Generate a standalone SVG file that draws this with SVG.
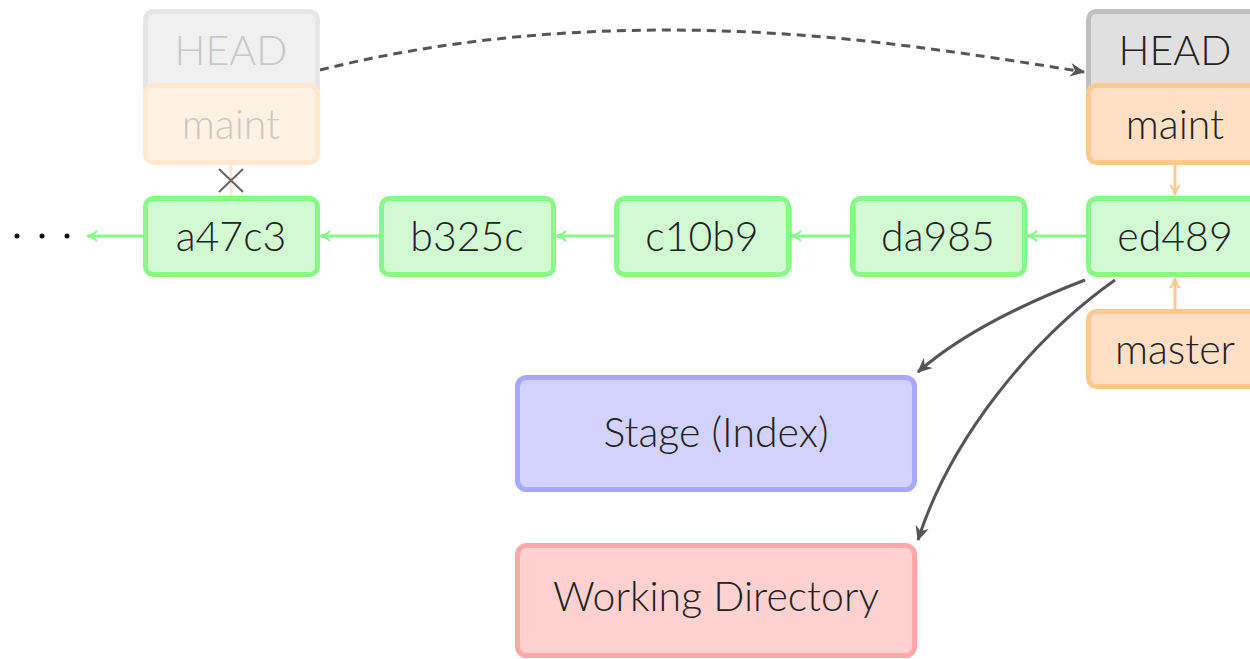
<svg xmlns="http://www.w3.org/2000/svg" width="1250" height="659" viewBox="0 0 1250 659">
<defs>
<style>
.t{font-family:"Lato","Open Sans","DejaVu Sans",sans-serif;font-size:41px;font-weight:300;text-anchor:middle;fill:#222}
.commit rect{fill:#d2fad2;stroke:#88f888;stroke-width:5}
.hist{stroke:#88f888;stroke-width:3;fill:none;marker-end:url(#ag)}
.ref{stroke:#ffc890;stroke-width:3;fill:none;marker-end:url(#ao)}
.dark{stroke:#555;stroke-width:3;fill:none;marker-end:url(#ad)}
</style>
<marker id="ag" viewBox="0 0 12 12" refX="10" refY="6" markerWidth="12" markerHeight="12" markerUnits="userSpaceOnUse" orient="auto"><path d="M1,1 Q5,5 11,6 Q5,7 1,11" fill="none" stroke="#88f888" stroke-width="2"/></marker>
<marker id="ao" viewBox="0 0 12 12" refX="10" refY="6" markerWidth="12" markerHeight="12" markerUnits="userSpaceOnUse" orient="auto"><path d="M1,1 Q5,5 11,6 Q5,7 1,11" fill="none" stroke="#ffc890" stroke-width="2"/></marker>
<marker id="ad" viewBox="0 0 14 14" refX="12" refY="7" markerWidth="16" markerHeight="16" markerUnits="userSpaceOnUse" orient="auto"><path d="M0,1 L13,7 L0,13 L4,7 Z" fill="#555"/></marker>
</defs>
<g id="connectors">
<path class="hist" d="M143,236 L88,236"/>
<path class="hist" d="M379,236 L321,236"/>
<path class="hist" d="M614,236 L557,236"/>
<path class="hist" d="M850,236 L792,236"/>
<path class="hist" d="M1086,236 L1028,236"/>
<path class="ref" d="M1175,165 L1175,194"/>
<path class="ref" d="M1175,310 L1175,279"/>
<path d="M231,165 L231,196" stroke="#ffe6cc" stroke-width="3"/>
<path d="M219,169 L243,192 M243,169 L219,192" stroke="#666" stroke-width="2"/>
<path class="dark" d="M320,70 C500,25 700,20 900,45 C980,55 1040,65 1084,72" stroke-dasharray="9,6"/>
<path class="dark" d="M1085,280 C1020,305 960,335 918,372"/>
<path class="dark" d="M1115,280 C1030,340 950,440 918,540"/>
</g>
<g id="dots" fill="#111"><circle cx="17" cy="236" r="2.5"/><circle cx="42" cy="236" r="2.5"/><circle cx="67" cy="236" r="2.5"/></g>
<g id="head-old"><rect x="145.5" y="11.5" width="172" height="85" rx="8" fill="#f0f0f0" stroke="#e6e6e6" stroke-width="5"/><text class="t" x="231" y="65" style="fill:#c8c8c8">HEAD</text></g>
<g id="maint-old"><rect x="145.5" y="85.5" width="172" height="77" rx="8" fill="#fff2e2" stroke="#ffe8d0" stroke-width="5"/><text class="t" x="231" y="139" style="fill:#c8c8c8">maint</text></g>
<g id="a47c3" class="commit"><rect x="145.5" y="198.5" width="172" height="76" rx="8"/><text class="t" x="231" y="251">a47c3</text></g>
<g id="b325c" class="commit"><rect x="381.5" y="198.5" width="172" height="76" rx="8"/><text class="t" x="467" y="251">b325c</text></g>
<g id="c10b9" class="commit"><rect x="616.5" y="198.5" width="172" height="76" rx="8"/><text class="t" x="702" y="251">c10b9</text></g>
<g id="da985" class="commit"><rect x="852.5" y="198.5" width="172" height="76" rx="8"/><text class="t" x="938" y="251">da985</text></g>
<g id="ed489" class="commit"><rect x="1088.5" y="198.5" width="172" height="76" rx="8"/><text class="t" x="1175" y="251">ed489</text></g>
<g id="head"><rect x="1088.5" y="11.5" width="172" height="85" rx="8" fill="#e0e0e0" stroke="#c0c0c0" stroke-width="5"/><text class="t" x="1175" y="65">HEAD</text></g>
<g id="maint"><rect x="1088.5" y="85.5" width="172" height="77" rx="8" fill="#ffe0c4" stroke="#ffc890" stroke-width="5"/><text class="t" x="1175" y="139">maint</text></g>
<g id="master"><rect x="1088.5" y="311.5" width="172" height="75" rx="8" fill="#ffe0c4" stroke="#ffc890" stroke-width="5"/><text class="t" x="1175" y="364">master</text></g>
<g id="stage"><rect x="517.5" y="377.5" width="397" height="112" rx="9" fill="#d2d2fc" stroke="#a8a8ff" stroke-width="5"/><text class="t" x="716" y="447">Stage (Index)</text></g>
<g id="wd"><rect x="517.5" y="545.5" width="397" height="110" rx="9" fill="#ffd2d2" stroke="#ffa8a8" stroke-width="5"/><text class="t" x="716" y="611">Working Directory</text></g>
</svg>
